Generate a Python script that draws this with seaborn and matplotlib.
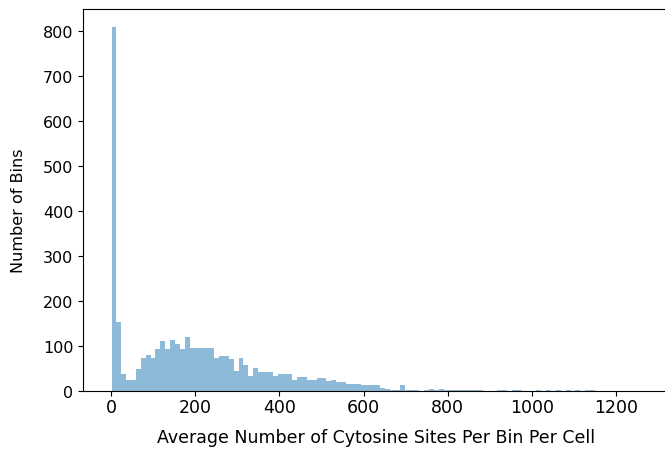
import numpy as np
import pandas as pd
import matplotlib
matplotlib.use("Agg")
import matplotlib.pyplot as plt
import seaborn as sns

# histogram counts, one value per bin
bin_start = 1.5
bin_width = 11.6
counts = [808, 152, 37, 24, 24, 48, 74, 79, 74, 93,
          110, 93, 113, 104, 93, 120, 96, 96, 96, 96,
          96, 74, 78, 78, 70, 44, 74, 57, 33, 50,
          41, 43, 43, 33, 38, 38, 38, 25, 31, 31,
          24, 24, 29, 29, 21, 25, 20, 20, 16, 16,
          16, 13, 13, 14, 14, 7, 5, 2, 1, 13,
          1, 1, 1, 0, 1, 4, 1, 4, 1, 1,
          2, 1, 2, 1, 1, 1, 0, 0, 0, 1,
          1, 0, 1, 1, 0, 0, 0, 1, 0, 1,
          0, 1, 0, 1, 0, 1, 0, 1, 1, 0]

edges = bin_start + bin_width * np.arange(len(counts) + 1)
df = pd.DataFrame({'center': (edges[:-1] + edges[1:]) / 2, 'count': counts})

plt.rcParams['font.family'] = ['DejaVu Sans']
fig = plt.figure(figsize=(6.65, 4.52), dpi=100)
ax = fig.add_axes([0.125, 0.133, 0.88, 0.845])

sns.histplot(data=df, x='center', weights='count', bins=list(edges),
             color='#1f77b4', alpha=0.5, linewidth=0, ax=ax)

ax.set_xlim(-66, 1324)
ax.set_ylim(0, 848)
ax.set_xticks(range(0, 1201, 200))
ax.set_yticks(range(0, 801, 100))
ax.tick_params(axis='x', labelsize=12.5, pad=1.5)
ax.tick_params(axis='y', labelsize=11.5)
ax.set_xlabel('Average Number of Cytosine Sites Per Bin Per Cell',
              fontsize=12.5, labelpad=9)
ax.set_ylabel('Number of Bins', fontsize=11.5)
ax.yaxis.set_label_coords(-0.097, 0.474)

fig.savefig('out.png', dpi=100)
